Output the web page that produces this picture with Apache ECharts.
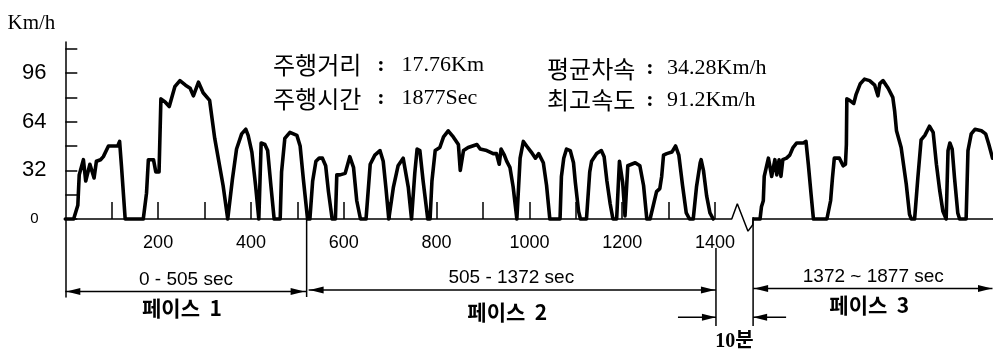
<!DOCTYPE html>
<html><head><meta charset="utf-8">
<script src="https://cdn.jsdelivr.net/npm/echarts@6/dist/echarts.min.js"></script>
<style>html,body{margin:0;padding:0;background:#fff}#c{width:993px;height:354px}</style>
</head><body><div id="c"></div>
<script>
// ---- data (time in s as drawn on the axis, speed in km/h) ----
const phase1T = [0,18,27,30,39,44,53,62,67,76,82,93,113,117,121,129,168,175,179,190,195,202,206,215,224,236,247,259,269,276,287,297,311,322,340,350,360,369,380,389,394,402,410,417,422,430,436,443,450,463,466,473,484,499,506,513,522];
const phase1V = [0,0,9,29,39,25,36,27,38,39,41,48,48,51,35,0,0,17,39,39,31,31,79,77,74,87,91,88,86,81,90,83,78,53,22,0,26,46,56,59,55,44,22,0,50,49,45,22,0,0,31,53,57,55,48,26,0];
const phase2T = [527,533,540,547,554,561,567,575,582,585,592,603,613,621,628,636,648,657,667,678,685,691,697,700,707,717,728,739,746,748,753,758,764,771,781,786,790,797,807,815,825,836,847,851,858,868,887,894,908,922,929,935,939,946,951,958,965,973,975,980,987,994,1004,1013,1020,1030,1037,1044,1066,1069,1074,1080,1088,1095,1099,1106,1110,1123,1130,1134,1145,1155,1161,1167,1174,1180,1188,1194,1201,1206,1212,1220,1228,1238,1246,1253,1260,1274,1281,1285,1289,1296,1307,1315,1322,1330,1338,1345,1353,1360,1368,1370,1375,1382,1389,1396];
const phase2V = [0,25,38,40,40,35,18,0,0,29,29,30,41,34,12,0,0,36,42,45,38,20,0,0,21,35,40,21,0,0,30,46,45,25,0,0,25,45,47,54,58,54,49,32,45,47,49,46,45,43,43,36,46,42,38,34,21,0,0,40,51,48,44,40,43,37,22,0,0,28,40,46,45,37,24,5,0,0,31,38,43,45,41,25,10,0,0,38,24,2,35,36,37,35,22,0,0,18,20,28,42,43,44,48,42,22,4,0,0,21,37,39,32,15,4,0];
const phase3T = [1374,1387,1390,1394,1396,1405,1412,1419,1423,1428,1432,1436,1444,1451,1458,1466,1480,1486,1491,1497,1502,1531,1534,1539,1543,1547,1551,1558,1562,1566,1571,1573,1574,1580,1589,1594,1603,1612,1623,1634,1641,1645,1652,1663,1673,1677,1681,1691,1702,1709,1713,1720,1727,1734,1742,1752,1760,1767,1774,1781,1788,1792,1796,1801,1806,1813,1817,1831,1835,1842,1850,1864,1873,1880,1888];
const phase3V = [0,0,8,12,28,40,28,39,29,39,28,39,40,42,47,50,50,51,36,16,0,0,1,12,27,40,41,40,40,35,36,49,79,78,76,82,89,92,91,88,81,89,91,86,80,71,58,47,23,3,0,0,27,52,55,61,57,36,19,5,0,45,50,46,27,4,0,0,45,56,59,58,56,49,40];
// axis baseline with the break mark of the 10-minute soak
const baseT = [0,1436,1448,1471,1481,1482,2000];
const baseV = [0,0,10,-8,-4,0,0];
// ticks and labels
const xTickVals = [100,200,300,400,500,600,700,800,900,1000,1100,1200,1300,1400];
const xLabelVals = [200,400,600,800,1000,1200,1400];
const yTickVals = [0,16,32,48,64,80,96,112];
const yLabelVals = [0,32,64,96];
// annotations
const drawnPhaseEdges = [0,520,1402];   // phase boundaries as drawn on the axis
const phaseRangeLabels = ['0 - 505 sec','505 - 1372 sec','1372 ~ 1877 sec'];
const phaseNames = ['페이스  1','페이스  2','페이스  3'];
const soakLabel = '10분';
const statLabels = ['주행거리','주행시간','평균차속','최고속도'];
const statValues = ['17.76Km','1877Sec','34.28Km/h','91.2Km/h'];

const SHIFT = 110; // drawn width of the soak break on the time axis
const X_MAX = 2000, Y_MIN = -51.3, Y_MAX = 116.4;
const chart = echarts.init(document.getElementById('c'));
const p12 = phase1T.map((t,i)=>[t,phase1V[i]]).concat(phase2T.map((t,i)=>[t,phase2V[i]]));
const p3 = phase3T.map((t,i)=>[t+SHIFT,phase3V[i]]);
const base = baseT.map((t,i)=>[t,baseV[i]]);
const curveStyle = {color:'#000',width:3.6,join:'round',cap:'round'};
const GL=65.3, GT=42, GW=928.2, GH=255;
const zeroH = GH*Y_MAX/(Y_MAX-Y_MIN); // height of the part above 0

chart.setOption({
  animation:false,
  backgroundColor:'#fff',
  grid:[
    {left:GL,top:GT,width:GW,height:GH,containLabel:false,outerBoundsMode:'none'},
    {left:GL,top:GT,width:GW,height:zeroH,containLabel:false,outerBoundsMode:'none'}
  ],
  xAxis:[
    {type:'value',gridIndex:0,min:0,max:X_MAX,show:false},
    {type:'value',gridIndex:1,min:0,max:X_MAX,position:'bottom',
      axisLine:{show:false},
      axisTick:{show:true,inside:true,length:17,customValues:xTickVals,lineStyle:{color:'#000',width:1.5}},
      axisLabel:{customValues:xLabelVals,margin:15,color:'#000',fontSize:18,fontFamily:'Liberation Sans',formatter:v=>String(v)},
      splitLine:{show:false}}
  ],
  yAxis:[
    {type:'value',gridIndex:0,min:Y_MIN,max:Y_MAX,
      name:'Km/h',nameLocation:'end',nameGap:8,
      nameTextStyle:{color:'#000',fontSize:21,fontFamily:'Liberation Serif',align:'right',padding:[0,10,0,0]},
      axisLine:{show:true,onZero:false,lineStyle:{color:'#000',width:1.5}},
      axisTick:{show:true,inside:true,length:12,customValues:yTickVals,lineStyle:{color:'#000',width:1.5}},
      axisLabel:{customValues:yLabelVals,margin:31,align:'center',color:'#000',fontFamily:'Liberation Sans',
        formatter:v=>v===0?'{s|0}':'{b|'+v+'}',
        rich:{s:{fontSize:15,fontFamily:'Liberation Sans',color:'#000'},b:{fontSize:22,fontFamily:'Liberation Sans',color:'#000'}}},
      splitLine:{show:false}},
    {type:'value',gridIndex:1,min:0,max:Y_MAX,show:false}
  ],
  series:[
    {type:'line',xAxisIndex:0,yAxisIndex:0,data:base,symbol:'none',silent:true,z:1,lineStyle:{color:'#000',width:1.5}},
    {type:'line',xAxisIndex:0,yAxisIndex:0,data:p12,symbol:'none',z:2,lineStyle:curveStyle},
    {type:'line',xAxisIndex:0,yAxisIndex:0,data:p3,symbol:'none',z:2,lineStyle:curveStyle}
  ]
});

// ---- dimension lines & texts ----
const P=(x,y)=>chart.convertToPixel({gridIndex:0},[x,y]);
const Z=P(0,0)[1];
const xA=P(drawnPhaseEdges[0],0)[0], xB=P(drawnPhaseEdges[1],0)[0], xC=P(drawnPhaseEdges[2],0)[0];
const xD=P(1372+SHIFT,0)[0], xE=P(X_MAX,0)[0];
const g=[];
const line=(x1,y1,x2,y2,w)=>g.push({type:'line',shape:{x1,y1,x2,y2},style:{stroke:'#000',lineWidth:w||1.5},z:10});
const head=(tx,ty,dir)=>g.push({type:'polygon',shape:{points:[[tx,ty],[tx-dir*14,ty-3.5],[tx-dir*14,ty+3.5]]},style:{fill:'#000'},z:10});
const text=(s,x,y,font,align)=>g.push({type:'text',style:{text:s,x,y,font,fill:'#000',align:align||'center',verticalAlign:'middle'},z:10});

line(xB,Z,xB,297);
line(xC,248,xC,326);
line(xD,Z-2,xD,326);
// phase arrows
const arrY=[291.5,290,288.5];
line(xA,arrY[0],xB,arrY[0]); head(xA+1,arrY[0],-1); head(xB-2,arrY[0],1);
line(xB+2,arrY[1],xC,arrY[1]); head(xB+3,arrY[1],-1); head(xC-1,arrY[1],1);
line(xD,arrY[2],xE-1,arrY[2]); head(xD+1,arrY[2],-1); head(xE-1.5,arrY[2],1);
// soak arrows
line(xC-38,317.3,xC,317.3); head(xC,317.3,1);
line(xD,317.3,xD+33,317.3); head(xD,317.3,-1);
const rangeY=[280,278,276.7], nameY=[308.5,312,305];
const mids=[(xA+xB)/2,(xB+xC)/2,(xD+xE)/2];
phaseRangeLabels.forEach((s,i)=>text(s,mids[i],rangeY[i],'19px "Liberation Sans"'));
phaseNames.forEach((s,i)=>text(s,mids[i]-4,nameY[i],'bold 21px "Noto Sans CJK KR"'));
text(soakLabel,(xC+xD)/2,342,'bold 20px "Liberation Serif", "Noto Sans CJK KR"');
// stats
const colX=[[273,381,401.5],[547,650,667]], rowY=[[65,98.5],[68.5,100]];
statLabels.forEach((s,i)=>{
  const c=i<2?0:1, r=i%2, y=rowY[c][r];
  text(s,colX[c][0],y,'24px "Noto Sans CJK KR"','left');
  text(':',colX[c][1],y,'bold 22px "Liberation Serif"','center');
  text(statValues[i],colX[c][2],y,'22px "Liberation Serif"','left');
});
chart.setOption({graphic:g});
</script></body></html>
